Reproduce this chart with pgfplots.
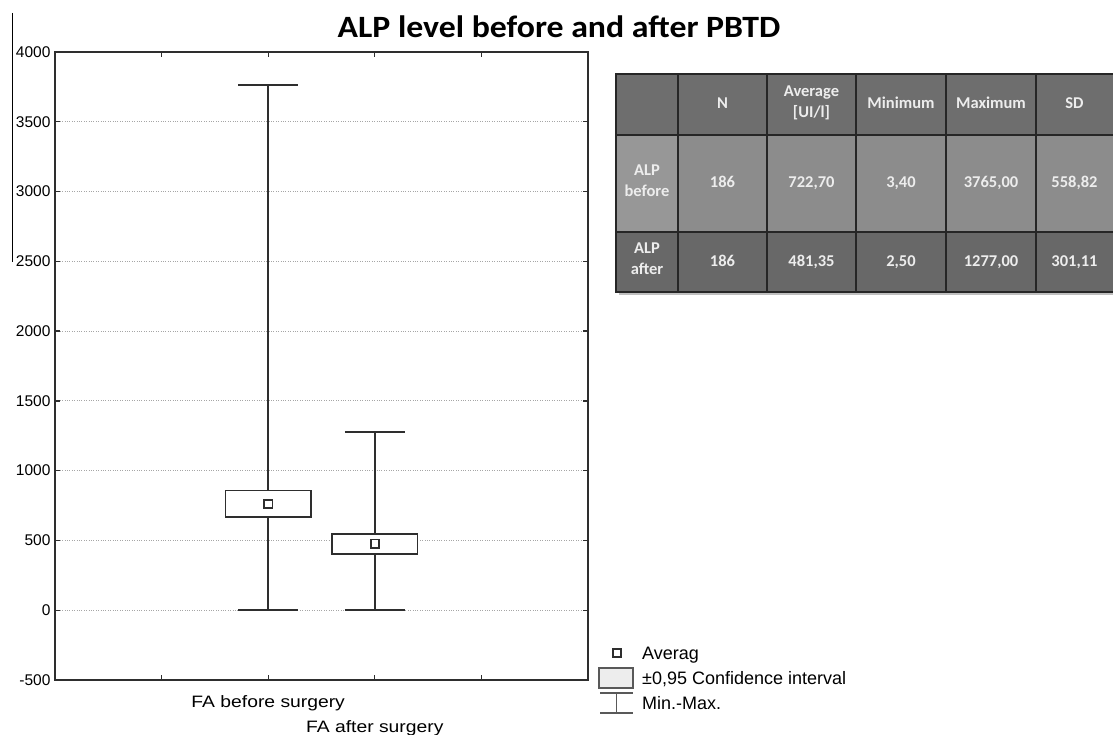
\documentclass[border=0pt]{standalone}
\usepackage{pgfplots}
\pgfplotsset{compat=1.18}
\usepackage{graphicx}
\usepackage{fontspec}
\setmainfont{Liberation Sans}
\newfontfamily\carlito{Carlito}
\definecolor{hdr}{HTML}{6E6E6E}
\definecolor{rowa}{HTML}{8C8C8C}
\definecolor{rowal}{HTML}{979797}
\definecolor{rowb}{HTML}{686868}
\definecolor{txt}{HTML}{EDEDED}
\definecolor{ln}{HTML}{2E2E2E}
\pgfplotsset{bx/.style={draw=ln, line width=1.7pt, solid, mark=none}}
\begin{document}
\begin{tikzpicture}
\useasboundingbox (-55pt,-55pt) rectangle (1058pt,680pt);
\draw[line width=1pt] (-42pt,667pt) -- (-42pt,418pt);
\begin{axis}[
 at={(0pt,0pt)}, anchor=south west,
 scale only axis, width=533pt, height=628pt,
 xmin=0, xmax=5, ymin=-500, ymax=4000,
 xtick={1,2,3,4}, xticklabels={},
 ytick={-500,0,500,1000,1500,2000,2500,3000,3500,4000},
 tick align=inside, tick pos=both, major tick length=5pt,
 axis line style={line width=1.6pt, ln},
 tick style={line width=1.3pt, ln},
 ymajorgrids, grid style={dotted, black!35, line width=0.9pt},
 yticklabel style={font=\fontsize{15.5}{17}\selectfont, /pgf/number format/assume math mode=true, xshift=-1pt},
 /pgf/number format/set thousands separator={},
 clip=false,
]
% FA before surgery: min 3.4, CI 669--857, max 3765
\addplot[bx] coordinates {(2,3.4) (2,669)};
\addplot[bx] coordinates {(2,857) (2,3765)};
\addplot[bx] coordinates {(1.72,3.4) (2.28,3.4)};
\addplot[bx] coordinates {(1.72,3765) (2.28,3765)};
\addplot[bx, fill=white] coordinates {(1.6,669) (2.4,669) (2.4,857) (1.6,857)} -- cycle;
% FA after surgery: min 2.5, CI 404--545, max 1277
\addplot[bx] coordinates {(3,2.5) (3,404)};
\addplot[bx] coordinates {(3,545) (3,1277)};
\addplot[bx] coordinates {(2.72,2.5) (3.28,2.5)};
\addplot[bx] coordinates {(2.72,1277) (3.28,1277)};
\addplot[bx, fill=white] coordinates {(2.6,404) (3.4,404) (3.4,545) (2.6,545)} -- cycle;
% averages
\addplot[only marks, mark=square, mark size=4.2pt, mark options={draw=ln, line width=1.8pt}]
  coordinates {(2,762) (3,476)};
\node[anchor=base] at (axis cs:2,-500) [yshift=-28pt] {\fontsize{16.5}{18}\selectfont\scalebox{1.17}[1]{FA before surgery}};
\node[anchor=base] at (axis cs:3,-500) [yshift=-53pt] {\fontsize{16.5}{18}\selectfont\scalebox{1.17}[1]{FA after surgery}};
\end{axis}
\begin{scope}[x=1pt,y=1pt]
% title
\node[anchor=base] at (504,642) {\carlito\bfseries\fontsize{31}{34}\selectfont\scalebox{1.09}[1]{ALP level before and after PBTD}};
% table
\fill[black!25] (564,385) rectangle (1070,603);
\fill[hdr] (561,606) rectangle (1070,545);
\fill[rowa] (561,545) rectangle (1070,448);
\fill[rowal] (561,545) rectangle (623,448);
\fill[rowb] (561,448) rectangle (1070,388);
\draw[line width=1.4pt, black!85] (561,606) rectangle (1070,388);
\foreach \y in {545,448} \draw[line width=1.4pt, black!85] (561,\y) -- (1070,\y);
\foreach \x in {623,712,801,891,981} \draw[line width=1.4pt, black!85] (\x,606) -- (\x,388);
\begin{scope}[every node/.style={text=txt, font=\carlito\bfseries\fontsize{16.5}{21}\selectfont, align=center, anchor=center, execute at begin node=\strut, execute at end node=\strut}]
\node at (667.5,575.5) {N};
\node at (756.5,575.5) {Average\\{}[UI/l]};
\node at (846,575.5) {Minimum};
\node at (936,575.5) {Maximum};
\node at (1019.5,575.5) {SD};
\node at (592,496.5) {ALP\\before};
\node at (667.5,496.5) {186};
\node at (756.5,496.5) {722,70};
\node at (846,496.5) {3,40};
\node at (936,496.5) {3765,00};
\node at (1019.5,496.5) {558,82};
\node at (592,418) {ALP\\after};
\node at (667.5,418) {186};
\node at (756.5,418) {481,35};
\node at (846,418) {2,50};
\node at (936,418) {1277,00};
\node at (1019.5,418) {301,11};
\end{scope}
% legend
\draw[line width=2pt, ln] (558,23) rectangle (566,31);
\draw[line width=1.1pt, black!65, fill=black!7] (544,12) rectangle (578,-8);
\draw[line width=1.1pt, black!65] (545,-13) -- (578,-13) (545,-33) -- (578,-33) (561.5,-13) -- (561.5,-33);
\begin{scope}[every node/.style={anchor=base west, font=\fontsize{18}{20}\selectfont, inner sep=0pt}]
\node at (587,20.5) {Averag};
\node at (587,-4.5) {±0,95 Confidence interval};
\node at (587,-29.5) {Min.-Max.};
\end{scope}
\end{scope}
\end{tikzpicture}
\end{document}
